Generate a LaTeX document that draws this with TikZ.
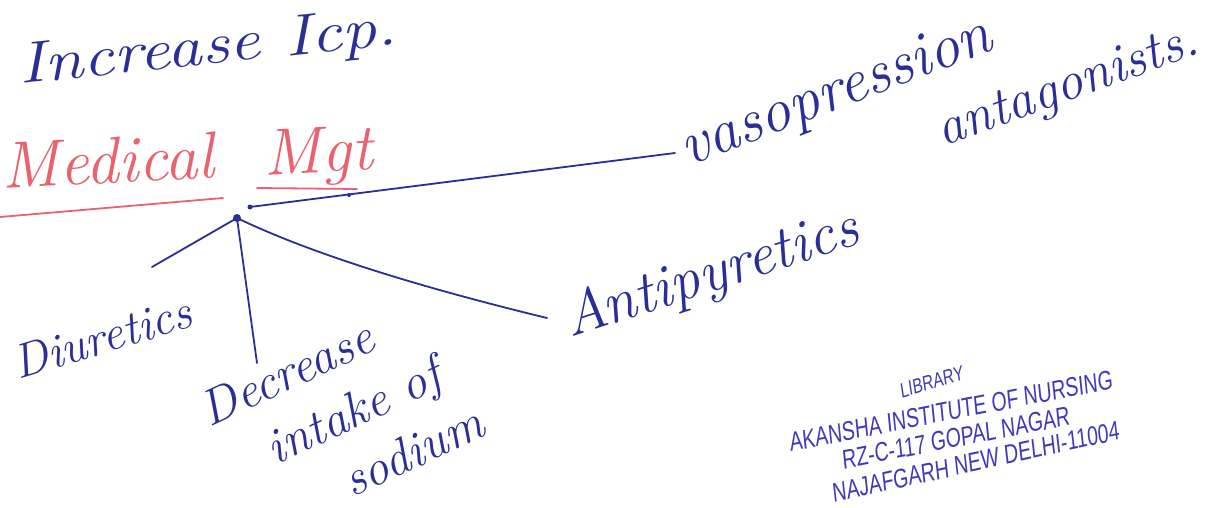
\documentclass[tikz,border=0pt]{standalone}
\usepackage{fontspec}
\newfontfamily\stampfont{Liberation Sans}
\definecolor{inkblue}{RGB}{42,46,150}
\definecolor{inkred}{RGB}{232,98,112}
\definecolor{stampblue}{RGB}{66,56,190}
\begin{document}
\begin{tikzpicture}[x=1pt,y=-1pt,
  ink/.style={draw=inkblue, line width=1.8pt, line cap=round, line join=round},
  redink/.style={draw=inkred, line width=1.8pt, line cap=round},
  dot/.style={circle, fill=inkblue, inner sep=0pt, minimum size=#1},
  hand/.style={inner sep=0pt, text=inkblue, font=\itshape\fontsize{#1}{#1}\selectfont},
  stamp/.style={inner sep=0pt, text=stampblue, font=\stampfont\fontsize{#1}{#1}\selectfont, xscale=0.72}
]
\fill[white] (0,0) rectangle (1209,508);
\useasboundingbox (0,0) rectangle (1209,508);

% heading
\node[hand=58, anchor=base west, rotate=6, xscale=1.2] (icp) at (20,84) {Increase Icp.};

% title in red with its underlines
\node[hand=66, text=inkred, anchor=base west, rotate=3] (mgt) at (2,189)
  {Medical \hspace{27pt}{\addfontfeature{LetterSpace=40}Mgt}};
\draw[redink] (0,217) -- (223,198);
\draw[redink] (257,188) -- (357,189);

% branching point and branches
\node[dot=8pt] (hub) at (237,218) {};
\node[dot=5pt] (vstart) at (250,207) {};
\node[dot=4pt] (blob) at (349,195) {};
\coordinate (diuEnd) at (152,267);
\coordinate (decEnd) at (257,363);
\coordinate (antEnd) at (547,318);
\coordinate (vasEnd) at (675,153);

\draw[ink] (hub.center) -- (diuEnd);
\draw[ink] (hub.center) -- (decEnd);
\draw[ink] (hub.center) .. controls (320,258) and (440,292) .. (antEnd);
\draw[ink] (vstart.center) -- (vasEnd);

% branch labels
\node[hand=62, anchor=base west, rotate=21] (vaso) at (688,167) {vasopression};
\node[hand=54, anchor=base west, rotate=20] (antag) at (943,147) {antagonists.};
\node[hand=48, anchor=base west, rotate=17] (diu) at (18,380) {Diuretics};
% three staggered lines; the base anchor sits on the last line
\node[hand=50, anchor=base west, rotate=25, align=left] (dec) at (262,540)
  {Decrease\\[12pt]\hspace*{44pt}intake of\\[12pt]\hspace*{100pt}sodium};
\node[hand=60, anchor=base west, rotate=18] (anti) at (570,338) {Antipyretics};

% library stamp
\node[stamp=21, anchor=base, rotate=12] (lib) at (933,389) {LIBRARY};
\node[stamp=27, anchor=base, rotate=8] (inst) at (952,420) {AKANSHA INSTITUTE OF NURSING};
\node[stamp=27, anchor=base, rotate=8] (addr) at (957,447) {RZ-C-117 GOPAL NAGAR};
\node[stamp=27, anchor=base, rotate=9] (city) at (977,471) {NAJAFGARH NEW DELHI-11004};
\end{tikzpicture}
\end{document}
